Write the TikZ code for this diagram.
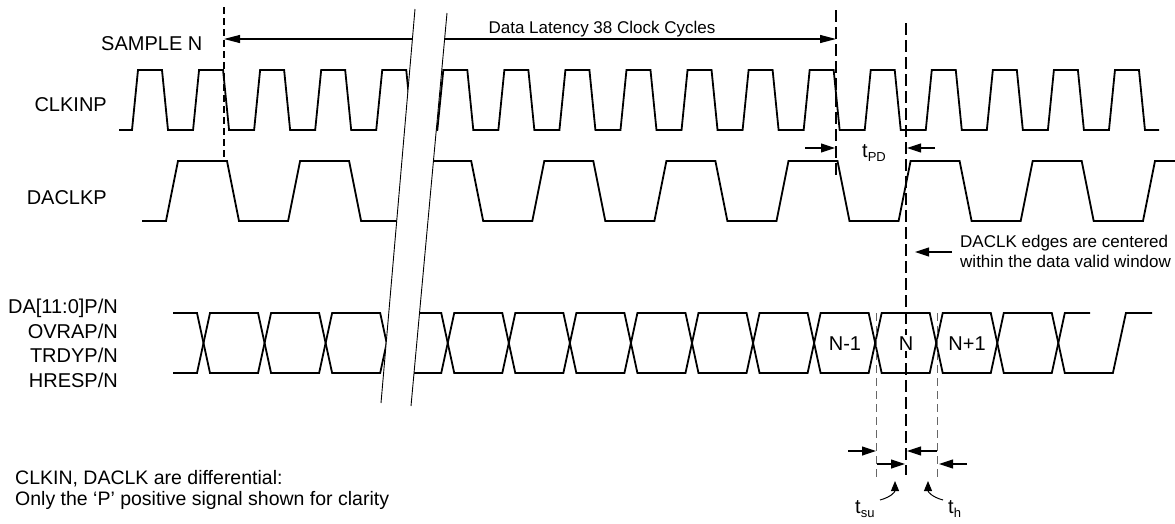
\documentclass[tikz,border=0pt]{standalone}
\usepackage{fontspec}
\setmainfont{Liberation Sans}
\usetikzlibrary{arrows.meta}
\newcommand\bigtxt{\fontsize{20}{24}\selectfont}
\newcommand\smalltxt{\fontsize{17}{19.5}\selectfont}
\newcommand\notetxt{\fontsize{19.5}{20.5}\selectfont}
\newcommand\subtxt{\fontsize{13}{15}\selectfont}
\begin{document}
\begin{tikzpicture}[x=1pt,y=-1pt,
  sig/.style={line width=1.8pt, line join=miter},
  lbl/.style={inner sep=0pt, font=\bigtxt},
  note/.style={inner sep=0pt, font=\smalltxt, align=left},
  dimarrow/.style={line width=1.1pt, -{Triangle[length=14pt,width=9pt]}},
  latarrow/.style={line width=1.1pt, {Triangle[length=16pt,width=8pt]}-{Triangle[length=16pt,width=8pt]}},
  longdash/.style={line width=1.6pt, dash pattern=on 12pt off 5pt},
  shortdash/.style={line width=1.3pt, dash pattern=on 7pt off 4pt},
  thindash/.style={line width=1pt, gray!80!black, dash pattern=on 8pt off 5pt},
  breakline/.style={line width=0.9pt},
  curvearrow/.style={line width=1pt, -{Triangle[length=10pt,width=8pt]}}]
\useasboundingbox (0,0) rectangle (1175,523);

% ---- labels
\node[lbl, anchor=base west] (sample) at (101,50) {SAMPLE N};
\node[lbl, anchor=base east] (clk) at (107,111) {CLKINP};
\node[lbl, anchor=base east] (daclk) at (107,204) {DACLKP};
\node[lbl, anchor=base east] (da) at (118,313) {DA[11:0]P/N};
\node[lbl, anchor=base east] (ovr) at (118,338) {OVRAP/N};
\node[lbl, anchor=base east] (trdy) at (118,362) {TRDYP/N};
\node[lbl, anchor=base east] (hres) at (118,387) {HRESP/N};

% ---- CLKINP
\draw[sig] (119,130) \foreach \k in {0,...,16}{ -- ({132+61.06*\k},130) -- ({138+61.06*\k},70) -- ({162+61.06*\k},70) -- ({168+61.06*\k},130)} -- (1159,130);

% ---- DACLKP
\draw[sig] (142,221) \foreach \k in {0,...,7}{ -- ({166+122.1*\k},221) -- ({178+122.1*\k},161) -- ({227+122.1*\k},161) -- ({239+122.1*\k},221)} -- (1143,221) -- (1155,161) -- (1175,161);

% ---- data bus
\draw[sig] (173,313) \foreach \j in {0,...,6}{ -- ({197+122.12*\j},313) -- ({210+122.12*\j},373) -- ({258.06+122.12*\j},373) -- ({271.06+122.12*\j},313)} -- (1051.8,313) -- (1064.8,373) -- (1112.9,373) -- (1125.9,313) -- (1152,313);
\draw[sig] (173,373) \foreach \j in {0,...,6}{ -- ({197+122.12*\j},373) -- ({210+122.12*\j},313) -- ({258.06+122.12*\j},313) -- ({271.06+122.12*\j},373)} -- (1051.8,373) -- (1064.8,313) -- (1090,313);

% ---- dashed reference lines
\coordinate (s0) at (224,7);   \coordinate (s1) at (224,160);
\coordinate (e0) at (836,10);  \coordinate (e1) at (836,175);
\coordinate (c0) at (906,23);  \coordinate (c1) at (906,475);
\coordinate (a0) at (876,313); \coordinate (a1) at (876,480);
\coordinate (b0) at (937,313); \coordinate (b1) at (937,480);
\draw[shortdash] (s0) -- (s1);
\draw[longdash] (e0) -- (e1);
\draw[longdash] (c0) -- (c1);
\draw[thindash] (a0) -- (a1);
\draw[thindash] (b0) -- (b1);

% ---- data latency
\coordinate (lat0) at (224,39);
\coordinate (lat1) at (836,39);
\draw[latarrow] (lat0) -- (lat1);
\node[note, anchor=base] (lat) at (602,33) {Data Latency 38 Clock Cycles};

% ---- break
\fill[white] (415,9) -- (447,13) -- (411,406) -- (381,403) -- cycle;
\draw[breakline] (415,9) -- (381,403);
\draw[breakline] (447,13) -- (411,406);

% ---- data labels
\node[lbl, anchor=base] (nm1) at (845,350) {N-1};
\node[lbl, anchor=base, fill=white, inner sep=1pt] (n0) at (906,350) {N};
\node[lbl, anchor=base] (np1) at (967,350) {N+1};

% ---- tPD
\coordinate (p0) at (805,148); \coordinate (p1) at (835,148);
\coordinate (q0) at (935,148); \coordinate (q1) at (907,148);
\draw[dimarrow] (p0) -- (p1);
\draw[dimarrow] (q0) -- (q1);
\node[inner sep=0pt, anchor=base west] (tpd) at (862,157) {\bigtxt t\raisebox{-4pt}{\subtxt PD}};

% ---- DACLK note
\coordinate (m0) at (952,252); \coordinate (m1) at (915,252);
\draw[dimarrow] (m0) -- (m1);
\node[note, anchor=base west] (center) at (960,267) {DACLK edges are centered\\within the data valid window};

% ---- tsu / th
\coordinate (u0) at (848,451); \coordinate (u1) at (876,451);
\coordinate (v0) at (937,451); \coordinate (v1) at (907,451);
\coordinate (w0) at (877,464); \coordinate (w1) at (905,464);
\coordinate (z0) at (967,464); \coordinate (z1) at (939,464);
\draw[dimarrow] (u0) -- (u1);
\draw[dimarrow] (v0) -- (v1);
\draw[dimarrow] (w0) -- (w1);
\draw[dimarrow] (z0) -- (z1);
\node[inner sep=0pt, anchor=base west] (tsu) at (855,513) {\bigtxt t\raisebox{-4pt}{\subtxt su}};
\node[inner sep=0pt, anchor=base west] (th) at (948,513) {\bigtxt t\raisebox{-4pt}{\subtxt h}};
\draw[curvearrow] (880,500) .. controls (891,497) and (895,492) .. (895,481);
\draw[curvearrow] (943,500) .. controls (932,497) and (928,492) .. (928,481);

% ---- bottom note
\node[inner sep=0pt, font=\notetxt, align=left, anchor=base west] (diff) at (15,505) {CLKIN, DACLK are differential:\\Only the ‘P’ positive signal shown for clarity};
\end{tikzpicture}
\end{document}
